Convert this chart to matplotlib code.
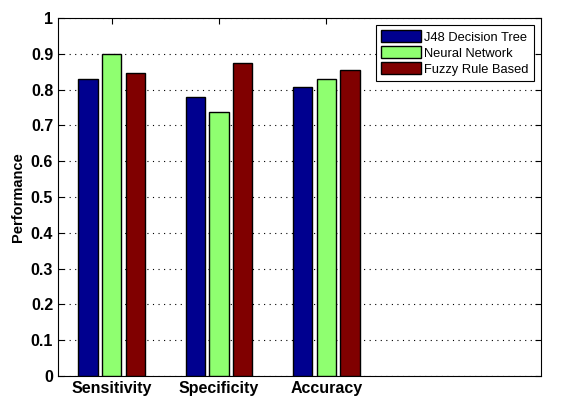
import numpy as np
import matplotlib
matplotlib.use('Agg')
import matplotlib.pyplot as plt

plt.rcParams['font.family'] = ['Liberation Sans', 'DejaVu Sans']

categories = ['Sensitivity', 'Specificity', 'Accuracy']
series_names = ['J48 Decision Tree', 'Neural Network', 'Fuzzy Rule Based']
j48 = [0.831, 0.780, 0.808]
nn = [0.900, 0.739, 0.831]
fuzzy = [0.848, 0.876, 0.856]
colors = ['#00008F', '#8FFF70', '#800000']

fig = plt.figure(figsize=(5.63, 4.03), dpi=100)
ax = fig.add_axes([0.103, 0.067, 0.858, 0.888])

x = np.arange(1, len(categories) + 1)
width = 0.18
offsets = [-0.22, 0.0, 0.22]
for vals, off, c, name in zip([j48, nn, fuzzy], offsets, colors, series_names):
    ax.bar(x + off, vals, width, color=c, edgecolor='black', linewidth=1, label=name, zorder=3)

ax.set_xlim(0.5, 5.0)
ax.set_ylim(0, 1)
ax.set_yticks(np.arange(0, 1.01, 0.1))
ax.set_yticklabels(['0', '0.1', '0.2', '0.3', '0.4', '0.5', '0.6', '0.7', '0.8', '0.9', '1'])
ax.set_xticks(x)
ax.set_xticklabels(categories)
ax.tick_params(direction='in', length=4, labelsize=11.5, width=0.8,
               top=True, right=True)
for lab in ax.get_xticklabels() + ax.get_yticklabels():
    lab.set_fontweight('bold')
ax.yaxis.grid(True, color='black', linestyle=(0, (1, 4)), linewidth=0.8)
ax.set_axisbelow(True)
for s in ax.spines.values():
    s.set_linewidth(0.8)

ax.set_ylabel('Performance', fontsize=10.5, fontweight='bold')

leg = ax.legend(loc='upper right', fontsize=9.3, fancybox=False, framealpha=1,
                edgecolor='black', borderaxespad=0.55, handlelength=3.1,
                handleheight=1.0, labelspacing=0.22, handletextpad=0.25,
                borderpad=0.4)
leg.get_frame().set_linewidth(0.8)

fig.savefig('out.png', dpi=100)
